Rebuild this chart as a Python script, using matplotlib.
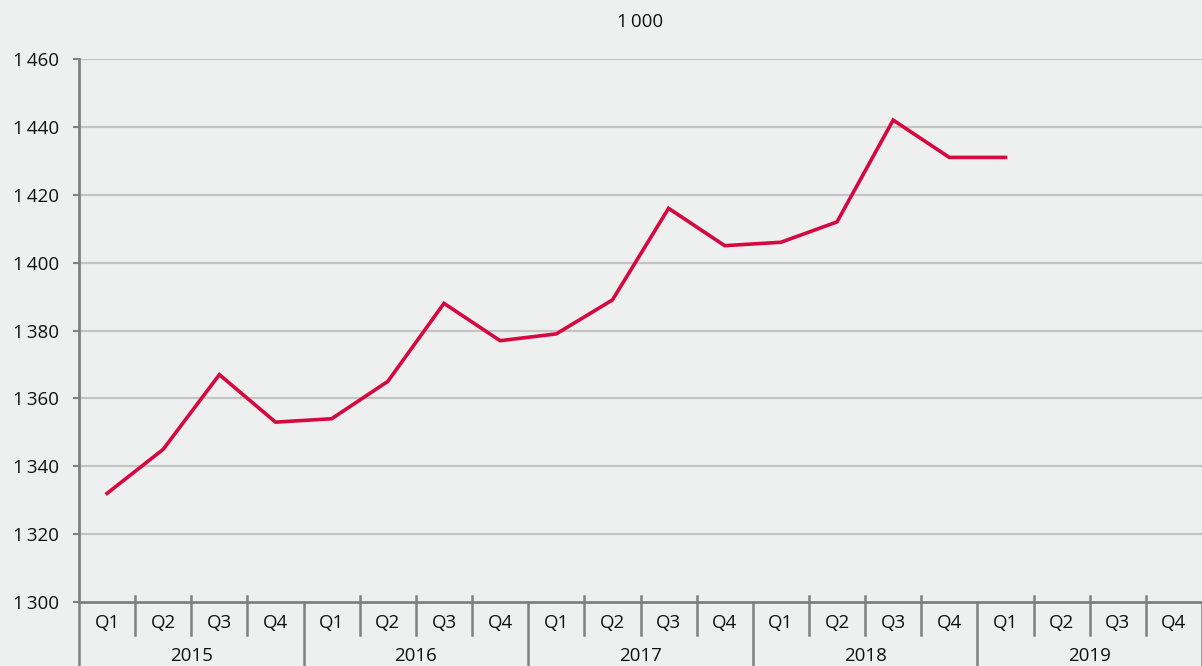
import matplotlib.pyplot as plt
import matplotlib.transforms as mtransforms

years = ["2015", "2016", "2017", "2018", "2019"]
quarters = ["Q1", "Q2", "Q3", "Q4"]
values = [1332, 1345, 1367, 1353,
          1354, 1365, 1388, 1377,
          1379, 1389, 1416, 1405,
          1406, 1412, 1442, 1431,
          1431]
y_ticks = [1300, 1320, 1340, 1360, 1380, 1400, 1420, 1440, 1460]

plt.rcParams["font.family"] = ["Open Sans", "DejaVu Sans"]

bg = "#eeefef"
axis_col = "#808080"
fs = 13.5

fig = plt.figure(figsize=(12.02, 6.66), dpi=100, facecolor=bg)
ax = fig.add_axes([79 / 1202, 1 - 602 / 666, 1 - 79 / 1202, (602 - 59) / 666])
ax.set_facecolor(bg)

n = len(years) * len(quarters)
xs = [i + 0.5 for i in range(len(values))]
ax.plot(xs, values, color="#d5093f", linewidth=2.6, solid_joinstyle="miter", zorder=3)

ax.set_xlim(0, n)
ax.set_ylim(1300, 1460)
ax.set_yticks(y_ticks)
ax.set_yticklabels([f"{v:,}".replace(",", "\u2009") for v in y_ticks], fontsize=fs)
for v in y_ticks[1:]:
    ax.axhline(v, color="#c4c4c4", linewidth=1.6, zorder=1)

ax.tick_params(axis="y", length=4.5, width=1.5, color=axis_col, pad=10, labelcolor="#111111")
ax.set_xticks([])

for s in ["top", "right"]:
    ax.spines[s].set_visible(False)
for s in ["left", "bottom"]:
    ax.spines[s].set_color(axis_col)
    ax.spines[s].set_linewidth(2)

trans = mtransforms.blended_transform_factory(ax.transData, ax.transAxes)
h = 543.0
for i in range(n + 1):
    if i % 4 == 0:
        ax.plot([i, i], [0, -66 / h], transform=trans, color=axis_col, lw=1.8, clip_on=False)
    else:
        ax.plot([i, i], [6 / h, -33 / h], transform=trans, color=axis_col, lw=1.8, clip_on=False)

for i in range(n):
    ax.text(i + 0.5, -21 / h, quarters[i % 4], transform=trans, ha="center", va="center",
            fontsize=fs, color="#111111")
for j, yr in enumerate(years):
    ax.text(j * 4 + 2, -54 / h, yr, transform=trans, ha="center", va="center",
            fontsize=fs, color="#111111")

ax.text(0.5, 1 + 37 / h, "1\u2009000", transform=ax.transAxes, ha="center", va="center",
        fontsize=fs, color="#111111")

fig.savefig("out.png", dpi=100, facecolor=bg)
